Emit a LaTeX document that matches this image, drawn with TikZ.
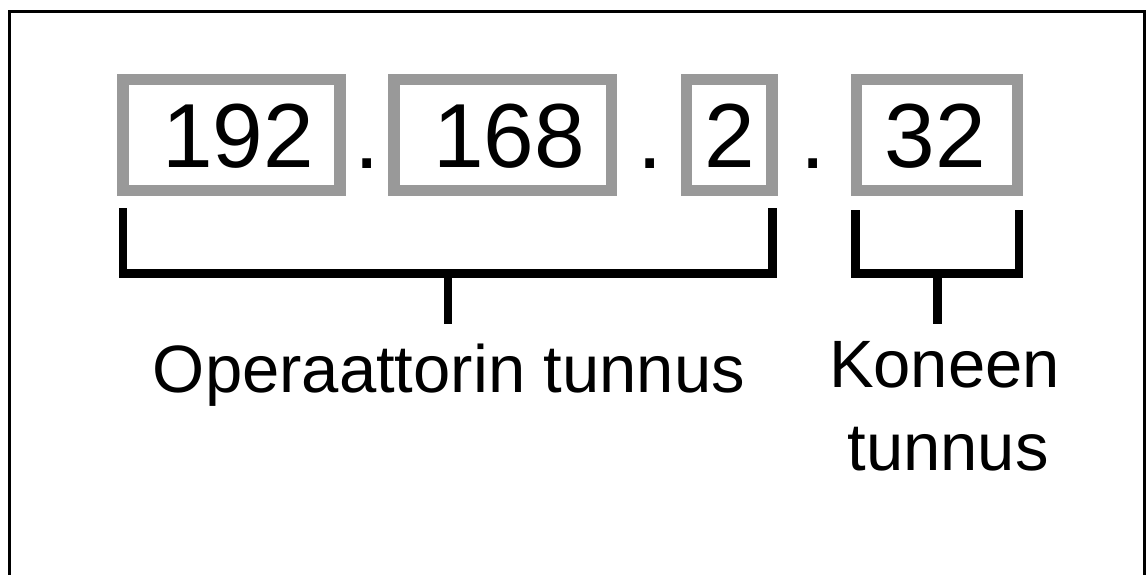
\documentclass[tikz,border=0pt]{standalone}
\usepackage{fontspec}
\setmainfont{Liberation Sans}
\definecolor{boxgray}{HTML}{999999}
\begin{document}
\begin{tikzpicture}[x=1pt,y=-1pt,
  ipbox/.style={draw=boxgray, line width=11.5pt, inner sep=0pt,
    minimum height=111pt, fill=white},
  num/.style={inner sep=0pt, font=\fontsize{91}{100}\selectfont,
    text height=65.2pt, text depth=0pt},
  sep/.style={inner sep=0pt, anchor=base, font=\fontsize{91}{100}\selectfont},
  caption/.style={inner sep=0pt, anchor=base, font=\fontsize{67}{80}\selectfont},
  brace/.style={line width=8.5pt, line cap=butt, line join=miter}]
  % canvas and frame (open at the bottom)
  \useasboundingbox[fill=white] (0,0) rectangle (1146,574);
  \begin{scope}
    \clip (0,0) rectangle (1146,574);
    \draw[line width=3pt] (9.5,590) -- (9.5,11.5) -- (1144.5,11.5) -- (1144.5,590);
  \end{scope}

  % octet boxes
  \node[ipbox, minimum width=217pt]   (b1) at (231.7,135) {};
  \node[ipbox, minimum width=217.5pt] (b2) at (502.7,135) {};
  \node[ipbox, minimum width=85.5pt]  (b3) at (729.2,135) {};
  \node[ipbox, minimum width=161pt]   (b4) at (937,135) {};

  % octet values
  \node[num] (n1) at (238,135)   {192};
  \node[num] (n2) at (509,135)   {168};
  \node[num] (n3) at (729.5,135) {2};
  \node[num] (n4) at (935.5,135) {32};

  % separating dots
  \node[sep] (d1) at (367,168)   {.};
  \node[sep] (d2) at (650,168)   {.};
  \node[sep] (d3) at (813.5,168) {.};

  % bracket under the network part
  \coordinate (l1) at (123,208);
  \coordinate (l2) at (772.5,208);
  \coordinate (lm) at (448,273.5);
  \coordinate (ls) at (448,324);
  \draw[brace] (l1) |- (lm) -| (l2);
  \draw[brace] (lm) -- (ls);

  % bracket under the host part
  \coordinate (r1) at (855.5,210);
  \coordinate (r2) at (1019,210);
  \coordinate (rm) at (937.5,273.5);
  \coordinate (rs) at (937.5,324);
  \draw[brace] (r1) |- (rm) -| (r2);
  \draw[brace] (rm) -- (rs);

  % captions
  \node[caption] (op) at (449,392) {Operaattorin tunnus};
  \node[caption] (k1) at (944.5,387) {Koneen};
  \node[caption] (k2) at (948,470) {tunnus};
\end{tikzpicture}
\end{document}
